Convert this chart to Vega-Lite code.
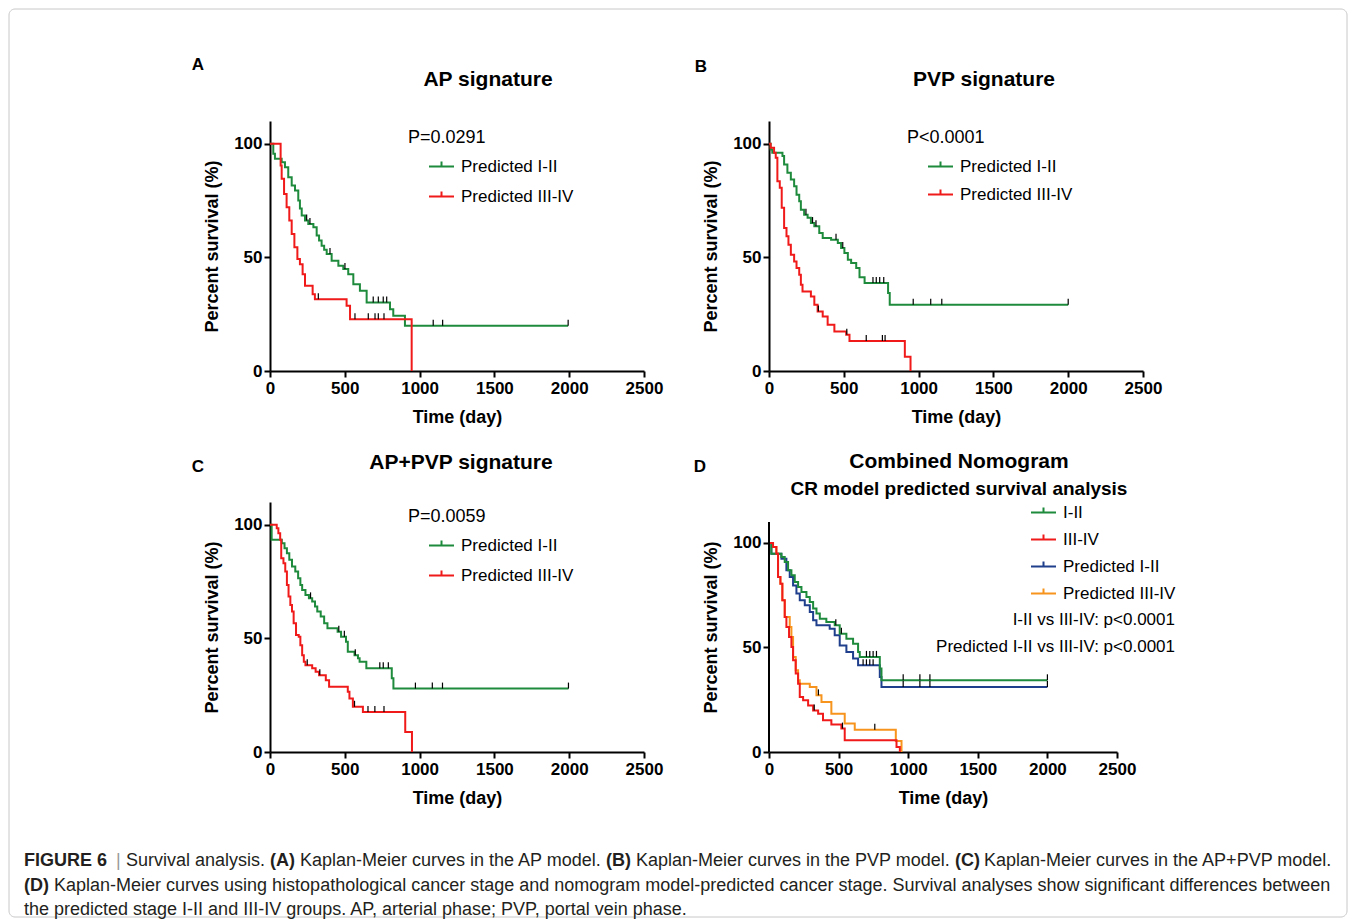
{
"$schema": "https://vega.github.io/schema/vega-lite/v6.json",
"padding": {"left": 8, "top": 8, "right": 8, "bottom": 8},
"background": "white",
"config": {
  "view": {"stroke": null},
  "font": "Liberation Sans",
  "axis": {"grid": false, "domainColor": "black", "domainWidth": 2, "tickColor": "black", "tickWidth": 2, "tickSize": 6, "labelFont": "Liberation Sans", "labelFontSize": 17, "labelFontWeight": "bold", "labelColor": "black", "titleFont": "Liberation Sans", "titleFontSize": 18, "titleFontWeight": "bold", "titleColor": "black", "labelPadding": 3, "titlePadding": 12, "labelFlush": false, "labelOverlap": false, "format": "d"},
  "axisY": {"labelPadding": 2, "titlePadding": 12},
  "title": {"font": "Liberation Sans", "fontSize": 21, "fontWeight": "bold", "color": "black", "frame": "group", "anchor": "middle"},
  "legend": {"labelFont": "Liberation Sans", "labelFontSize": 17, "labelColor": "black", "titleFont": "Liberation Sans", "titleFontSize": 18, "titleFontWeight": "normal", "titleColor": "black", "symbolType": "M-1,0L1,0M0,0L0,-0.4", "symbolSize": 625, "symbolStrokeWidth": 2, "labelOffset": 6, "padding": 0, "titleLimit": 400, "labelLimit": 300}
},
"datasets": {
  "A": [
    {"group": "Predicted I-II", "kind": "curve", "day": 0, "surv": 100},
    {"group": "Predicted I-II", "kind": "curve", "day": 22, "surv": 95.6},
    {"group": "Predicted I-II", "kind": "curve", "day": 33, "surv": 93.4},
    {"group": "Predicted I-II", "kind": "curve", "day": 78, "surv": 91.9},
    {"group": "Predicted I-II", "kind": "curve", "day": 100, "surv": 89.7},
    {"group": "Predicted I-II", "kind": "curve", "day": 122, "surv": 85.3},
    {"group": "Predicted I-II", "kind": "curve", "day": 145, "surv": 81.6},
    {"group": "Predicted I-II", "kind": "curve", "day": 167, "surv": 79.4},
    {"group": "Predicted I-II", "kind": "curve", "day": 189, "surv": 75},
    {"group": "Predicted I-II", "kind": "curve", "day": 200, "surv": 71.5},
    {"group": "Predicted I-II", "kind": "curve", "day": 212, "surv": 68.4},
    {"group": "Predicted I-II", "kind": "curve", "day": 234, "surv": 66.2},
    {"group": "Predicted I-II", "kind": "curve", "day": 256, "surv": 64.7},
    {"group": "Predicted I-II", "kind": "curve", "day": 290, "surv": 63.2},
    {"group": "Predicted I-II", "kind": "curve", "day": 312, "surv": 59.6},
    {"group": "Predicted I-II", "kind": "curve", "day": 328, "surv": 57.4},
    {"group": "Predicted I-II", "kind": "curve", "day": 345, "surv": 55.1},
    {"group": "Predicted I-II", "kind": "curve", "day": 362, "surv": 53.3},
    {"group": "Predicted I-II", "kind": "curve", "day": 379, "surv": 51.5},
    {"group": "Predicted I-II", "kind": "curve", "day": 412, "surv": 48.5},
    {"group": "Predicted I-II", "kind": "curve", "day": 457, "surv": 46.3},
    {"group": "Predicted I-II", "kind": "curve", "day": 490, "surv": 44.9},
    {"group": "Predicted I-II", "kind": "curve", "day": 523, "surv": 42.6},
    {"group": "Predicted I-II", "kind": "curve", "day": 557, "surv": 38.2},
    {"group": "Predicted I-II", "kind": "curve", "day": 601, "surv": 35.3},
    {"group": "Predicted I-II", "kind": "curve", "day": 646, "surv": 30.1},
    {"group": "Predicted I-II", "kind": "curve", "day": 802, "surv": 27.2},
    {"group": "Predicted I-II", "kind": "curve", "day": 824, "surv": 24.3},
    {"group": "Predicted I-II", "kind": "curve", "day": 902, "surv": 19.9},
    {"group": "Predicted I-II", "kind": "curve", "day": 1993, "surv": 19.9},
    {"group": "Predicted III-IV", "kind": "curve", "day": 0, "surv": 100},
    {"group": "Predicted III-IV", "kind": "curve", "day": 71, "surv": 90.4},
    {"group": "Predicted III-IV", "kind": "curve", "day": 78, "surv": 84.6},
    {"group": "Predicted III-IV", "kind": "curve", "day": 94, "surv": 77.9},
    {"group": "Predicted III-IV", "kind": "curve", "day": 111, "surv": 72},
    {"group": "Predicted III-IV", "kind": "curve", "day": 129, "surv": 66.2},
    {"group": "Predicted III-IV", "kind": "curve", "day": 145, "surv": 60.3},
    {"group": "Predicted III-IV", "kind": "curve", "day": 163, "surv": 54.4},
    {"group": "Predicted III-IV", "kind": "curve", "day": 183, "surv": 49.3},
    {"group": "Predicted III-IV", "kind": "curve", "day": 200, "surv": 47},
    {"group": "Predicted III-IV", "kind": "curve", "day": 218, "surv": 42.6},
    {"group": "Predicted III-IV", "kind": "curve", "day": 234, "surv": 37.5},
    {"group": "Predicted III-IV", "kind": "curve", "day": 285, "surv": 33.8},
    {"group": "Predicted III-IV", "kind": "curve", "day": 300, "surv": 31.6},
    {"group": "Predicted III-IV", "kind": "curve", "day": 512, "surv": 28.7},
    {"group": "Predicted III-IV", "kind": "curve", "day": 535, "surv": 22.8},
    {"group": "Predicted III-IV", "kind": "curve", "day": 947, "surv": 0},
    {"group": "Predicted I-II", "kind": "censor", "day": 245, "surv": 66.2},
    {"group": "Predicted I-II", "kind": "censor", "day": 267, "surv": 64.7},
    {"group": "Predicted I-II", "kind": "censor", "day": 401, "surv": 51.5},
    {"group": "Predicted I-II", "kind": "censor", "day": 501, "surv": 44.9},
    {"group": "Predicted I-II", "kind": "censor", "day": 690, "surv": 30.1},
    {"group": "Predicted I-II", "kind": "censor", "day": 724, "surv": 30.1},
    {"group": "Predicted I-II", "kind": "censor", "day": 757, "surv": 30.1},
    {"group": "Predicted I-II", "kind": "censor", "day": 780, "surv": 30.1},
    {"group": "Predicted I-II", "kind": "censor", "day": 1091, "surv": 19.9},
    {"group": "Predicted I-II", "kind": "censor", "day": 1154, "surv": 19.9},
    {"group": "Predicted I-II", "kind": "censor", "day": 1993, "surv": 19.9},
    {"group": "Predicted III-IV", "kind": "censor", "day": 323, "surv": 31.6},
    {"group": "Predicted III-IV", "kind": "censor", "day": 568, "surv": 22.8},
    {"group": "Predicted III-IV", "kind": "censor", "day": 657, "surv": 22.8},
    {"group": "Predicted III-IV", "kind": "censor", "day": 702, "surv": 22.8},
    {"group": "Predicted III-IV", "kind": "censor", "day": 724, "surv": 22.8},
    {"group": "Predicted III-IV", "kind": "censor", "day": 762, "surv": 22.8}
  ],
  "B": [
    {"group": "Predicted I-II", "kind": "curve", "day": 0, "surv": 100},
    {"group": "Predicted I-II", "kind": "curve", "day": 11, "surv": 97.5},
    {"group": "Predicted I-II", "kind": "curve", "day": 22, "surv": 96},
    {"group": "Predicted I-II", "kind": "curve", "day": 90, "surv": 94.6},
    {"group": "Predicted I-II", "kind": "curve", "day": 101, "surv": 90.9},
    {"group": "Predicted I-II", "kind": "curve", "day": 123, "surv": 87.2},
    {"group": "Predicted I-II", "kind": "curve", "day": 146, "surv": 84.3},
    {"group": "Predicted I-II", "kind": "curve", "day": 168, "surv": 81.3},
    {"group": "Predicted I-II", "kind": "curve", "day": 184, "surv": 77.6},
    {"group": "Predicted I-II", "kind": "curve", "day": 202, "surv": 74.7},
    {"group": "Predicted I-II", "kind": "curve", "day": 213, "surv": 71},
    {"group": "Predicted I-II", "kind": "curve", "day": 235, "surv": 68.8},
    {"group": "Predicted I-II", "kind": "curve", "day": 258, "surv": 67.4},
    {"group": "Predicted I-II", "kind": "curve", "day": 280, "surv": 65.1},
    {"group": "Predicted I-II", "kind": "curve", "day": 303, "surv": 63.7},
    {"group": "Predicted I-II", "kind": "curve", "day": 336, "surv": 60.7},
    {"group": "Predicted I-II", "kind": "curve", "day": 359, "surv": 58.5},
    {"group": "Predicted I-II", "kind": "curve", "day": 415, "surv": 57.8},
    {"group": "Predicted I-II", "kind": "curve", "day": 460, "surv": 56.3},
    {"group": "Predicted I-II", "kind": "curve", "day": 482, "surv": 54.1},
    {"group": "Predicted I-II", "kind": "curve", "day": 504, "surv": 51.9},
    {"group": "Predicted I-II", "kind": "curve", "day": 527, "surv": 49},
    {"group": "Predicted I-II", "kind": "curve", "day": 549, "surv": 47.5},
    {"group": "Predicted I-II", "kind": "curve", "day": 583, "surv": 45.3},
    {"group": "Predicted I-II", "kind": "curve", "day": 605, "surv": 41.2},
    {"group": "Predicted I-II", "kind": "curve", "day": 639, "surv": 38.7},
    {"group": "Predicted I-II", "kind": "curve", "day": 796, "surv": 34.3},
    {"group": "Predicted I-II", "kind": "curve", "day": 807, "surv": 29.1},
    {"group": "Predicted I-II", "kind": "curve", "day": 2000, "surv": 29.1},
    {"group": "Predicted III-IV", "kind": "curve", "day": 0, "surv": 100},
    {"group": "Predicted III-IV", "kind": "curve", "day": 11, "surv": 98.2},
    {"group": "Predicted III-IV", "kind": "curve", "day": 34, "surv": 96},
    {"group": "Predicted III-IV", "kind": "curve", "day": 45, "surv": 93.8},
    {"group": "Predicted III-IV", "kind": "curve", "day": 56, "surv": 83.5},
    {"group": "Predicted III-IV", "kind": "curve", "day": 72, "surv": 80.6},
    {"group": "Predicted III-IV", "kind": "curve", "day": 85, "surv": 71.8},
    {"group": "Predicted III-IV", "kind": "curve", "day": 101, "surv": 62.9},
    {"group": "Predicted III-IV", "kind": "curve", "day": 117, "surv": 59.3},
    {"group": "Predicted III-IV", "kind": "curve", "day": 130, "surv": 55.6},
    {"group": "Predicted III-IV", "kind": "curve", "day": 146, "surv": 51.2},
    {"group": "Predicted III-IV", "kind": "curve", "day": 168, "surv": 48.2},
    {"group": "Predicted III-IV", "kind": "curve", "day": 184, "surv": 45.3},
    {"group": "Predicted III-IV", "kind": "curve", "day": 202, "surv": 42.4},
    {"group": "Predicted III-IV", "kind": "curve", "day": 213, "surv": 37.9},
    {"group": "Predicted III-IV", "kind": "curve", "day": 224, "surv": 35},
    {"group": "Predicted III-IV", "kind": "curve", "day": 280, "surv": 32.8},
    {"group": "Predicted III-IV", "kind": "curve", "day": 303, "surv": 29.1},
    {"group": "Predicted III-IV", "kind": "curve", "day": 325, "surv": 26.2},
    {"group": "Predicted III-IV", "kind": "curve", "day": 359, "surv": 24},
    {"group": "Predicted III-IV", "kind": "curve", "day": 392, "surv": 20.3},
    {"group": "Predicted III-IV", "kind": "curve", "day": 437, "surv": 17.4},
    {"group": "Predicted III-IV", "kind": "curve", "day": 516, "surv": 15.9},
    {"group": "Predicted III-IV", "kind": "curve", "day": 538, "surv": 13.2},
    {"group": "Predicted III-IV", "kind": "curve", "day": 908, "surv": 6.3},
    {"group": "Predicted III-IV", "kind": "curve", "day": 946, "surv": 0},
    {"group": "Predicted I-II", "kind": "censor", "day": 247, "surv": 68.8},
    {"group": "Predicted I-II", "kind": "censor", "day": 291, "surv": 65.1},
    {"group": "Predicted I-II", "kind": "censor", "day": 314, "surv": 63.7},
    {"group": "Predicted I-II", "kind": "censor", "day": 448, "surv": 57.8},
    {"group": "Predicted I-II", "kind": "censor", "day": 493, "surv": 54.1},
    {"group": "Predicted I-II", "kind": "censor", "day": 695, "surv": 38.7},
    {"group": "Predicted I-II", "kind": "censor", "day": 717, "surv": 38.7},
    {"group": "Predicted I-II", "kind": "censor", "day": 740, "surv": 38.7},
    {"group": "Predicted I-II", "kind": "censor", "day": 767, "surv": 38.7},
    {"group": "Predicted I-II", "kind": "censor", "day": 964, "surv": 29.1},
    {"group": "Predicted I-II", "kind": "censor", "day": 1081, "surv": 29.1},
    {"group": "Predicted I-II", "kind": "censor", "day": 1155, "surv": 29.1},
    {"group": "Predicted I-II", "kind": "censor", "day": 2000, "surv": 29.1},
    {"group": "Predicted III-IV", "kind": "censor", "day": 330, "surv": 26.2},
    {"group": "Predicted III-IV", "kind": "censor", "day": 520, "surv": 15.9},
    {"group": "Predicted III-IV", "kind": "censor", "day": 650, "surv": 13.2},
    {"group": "Predicted III-IV", "kind": "censor", "day": 758, "surv": 13.2},
    {"group": "Predicted III-IV", "kind": "censor", "day": 776, "surv": 13.2}
  ],
  "C": [
    {"group": "Predicted I-II", "kind": "curve", "day": 0, "surv": 100},
    {"group": "Predicted I-II", "kind": "curve", "day": 11, "surv": 93.4},
    {"group": "Predicted I-II", "kind": "curve", "day": 79, "surv": 91.9},
    {"group": "Predicted I-II", "kind": "curve", "day": 97, "surv": 89.7},
    {"group": "Predicted I-II", "kind": "curve", "day": 113, "surv": 87.5},
    {"group": "Predicted I-II", "kind": "curve", "day": 129, "surv": 84.6},
    {"group": "Predicted I-II", "kind": "curve", "day": 147, "surv": 81.6},
    {"group": "Predicted I-II", "kind": "curve", "day": 169, "surv": 79.4},
    {"group": "Predicted I-II", "kind": "curve", "day": 188, "surv": 76.5},
    {"group": "Predicted I-II", "kind": "curve", "day": 203, "surv": 73.5},
    {"group": "Predicted I-II", "kind": "curve", "day": 215, "surv": 71.3},
    {"group": "Predicted I-II", "kind": "curve", "day": 237, "surv": 69.1},
    {"group": "Predicted I-II", "kind": "curve", "day": 260, "surv": 67.6},
    {"group": "Predicted I-II", "kind": "curve", "day": 282, "surv": 66.2},
    {"group": "Predicted I-II", "kind": "curve", "day": 301, "surv": 64},
    {"group": "Predicted I-II", "kind": "curve", "day": 316, "surv": 61.8},
    {"group": "Predicted I-II", "kind": "curve", "day": 339, "surv": 59.6},
    {"group": "Predicted I-II", "kind": "curve", "day": 362, "surv": 56.6},
    {"group": "Predicted I-II", "kind": "curve", "day": 384, "surv": 54.4},
    {"group": "Predicted I-II", "kind": "curve", "day": 452, "surv": 52.9},
    {"group": "Predicted I-II", "kind": "curve", "day": 475, "surv": 50.7},
    {"group": "Predicted I-II", "kind": "curve", "day": 508, "surv": 48.5},
    {"group": "Predicted I-II", "kind": "curve", "day": 520, "surv": 44.1},
    {"group": "Predicted I-II", "kind": "curve", "day": 565, "surv": 42.6},
    {"group": "Predicted I-II", "kind": "curve", "day": 588, "surv": 41.2},
    {"group": "Predicted I-II", "kind": "curve", "day": 599, "surv": 39.7},
    {"group": "Predicted I-II", "kind": "curve", "day": 644, "surv": 36.8},
    {"group": "Predicted I-II", "kind": "curve", "day": 814, "surv": 32.4},
    {"group": "Predicted I-II", "kind": "curve", "day": 825, "surv": 27.9},
    {"group": "Predicted I-II", "kind": "curve", "day": 1995, "surv": 27.9},
    {"group": "Predicted III-IV", "kind": "curve", "day": 0, "surv": 100},
    {"group": "Predicted III-IV", "kind": "curve", "day": 45, "surv": 98.5},
    {"group": "Predicted III-IV", "kind": "curve", "day": 56, "surv": 96.3},
    {"group": "Predicted III-IV", "kind": "curve", "day": 68, "surv": 93.4},
    {"group": "Predicted III-IV", "kind": "curve", "day": 75, "surv": 85.3},
    {"group": "Predicted III-IV", "kind": "curve", "day": 90, "surv": 83.1},
    {"group": "Predicted III-IV", "kind": "curve", "day": 102, "surv": 79.4},
    {"group": "Predicted III-IV", "kind": "curve", "day": 113, "surv": 73.5},
    {"group": "Predicted III-IV", "kind": "curve", "day": 124, "surv": 68.4},
    {"group": "Predicted III-IV", "kind": "curve", "day": 136, "surv": 64.7},
    {"group": "Predicted III-IV", "kind": "curve", "day": 147, "surv": 61.8},
    {"group": "Predicted III-IV", "kind": "curve", "day": 158, "surv": 56.6},
    {"group": "Predicted III-IV", "kind": "curve", "day": 174, "surv": 51.5},
    {"group": "Predicted III-IV", "kind": "curve", "day": 192, "surv": 50.7},
    {"group": "Predicted III-IV", "kind": "curve", "day": 203, "surv": 47},
    {"group": "Predicted III-IV", "kind": "curve", "day": 215, "surv": 42.6},
    {"group": "Predicted III-IV", "kind": "curve", "day": 226, "surv": 39.7},
    {"group": "Predicted III-IV", "kind": "curve", "day": 237, "surv": 38.2},
    {"group": "Predicted III-IV", "kind": "curve", "day": 282, "surv": 36.8},
    {"group": "Predicted III-IV", "kind": "curve", "day": 305, "surv": 35.3},
    {"group": "Predicted III-IV", "kind": "curve", "day": 328, "surv": 33.8},
    {"group": "Predicted III-IV", "kind": "curve", "day": 373, "surv": 31.6},
    {"group": "Predicted III-IV", "kind": "curve", "day": 395, "surv": 28.7},
    {"group": "Predicted III-IV", "kind": "curve", "day": 520, "surv": 26.5},
    {"group": "Predicted III-IV", "kind": "curve", "day": 531, "surv": 23.5},
    {"group": "Predicted III-IV", "kind": "curve", "day": 554, "surv": 19.9},
    {"group": "Predicted III-IV", "kind": "curve", "day": 621, "surv": 17.6},
    {"group": "Predicted III-IV", "kind": "curve", "day": 904, "surv": 8.8},
    {"group": "Predicted III-IV", "kind": "curve", "day": 949, "surv": 0},
    {"group": "Predicted I-II", "kind": "censor", "day": 271, "surv": 67.6},
    {"group": "Predicted I-II", "kind": "censor", "day": 460, "surv": 52.9},
    {"group": "Predicted I-II", "kind": "censor", "day": 497, "surv": 50.7},
    {"group": "Predicted I-II", "kind": "censor", "day": 570, "surv": 42.6},
    {"group": "Predicted I-II", "kind": "censor", "day": 734, "surv": 36.8},
    {"group": "Predicted I-II", "kind": "censor", "day": 757, "surv": 36.8},
    {"group": "Predicted I-II", "kind": "censor", "day": 791, "surv": 36.8},
    {"group": "Predicted I-II", "kind": "censor", "day": 972, "surv": 27.9},
    {"group": "Predicted I-II", "kind": "censor", "day": 1085, "surv": 27.9},
    {"group": "Predicted I-II", "kind": "censor", "day": 1153, "surv": 27.9},
    {"group": "Predicted I-II", "kind": "censor", "day": 1995, "surv": 27.9},
    {"group": "Predicted III-IV", "kind": "censor", "day": 249, "surv": 38.2},
    {"group": "Predicted III-IV", "kind": "censor", "day": 333, "surv": 33.8},
    {"group": "Predicted III-IV", "kind": "censor", "day": 565, "surv": 19.9},
    {"group": "Predicted III-IV", "kind": "censor", "day": 655, "surv": 17.6},
    {"group": "Predicted III-IV", "kind": "censor", "day": 701, "surv": 17.6},
    {"group": "Predicted III-IV", "kind": "censor", "day": 762, "surv": 17.6}
  ],
  "D": [
    {"group": "Predicted I-II", "kind": "curve", "day": 0, "surv": 100},
    {"group": "Predicted I-II", "kind": "curve", "day": 17, "surv": 94.9},
    {"group": "Predicted I-II", "kind": "curve", "day": 89, "surv": 92.5},
    {"group": "Predicted I-II", "kind": "curve", "day": 125, "surv": 86.9},
    {"group": "Predicted I-II", "kind": "curve", "day": 149, "surv": 83.7},
    {"group": "Predicted I-II", "kind": "curve", "day": 173, "surv": 79.7},
    {"group": "Predicted I-II", "kind": "curve", "day": 197, "surv": 75.8},
    {"group": "Predicted I-II", "kind": "curve", "day": 221, "surv": 72.6},
    {"group": "Predicted I-II", "kind": "curve", "day": 257, "surv": 70.2},
    {"group": "Predicted I-II", "kind": "curve", "day": 293, "surv": 67},
    {"group": "Predicted I-II", "kind": "curve", "day": 317, "surv": 63},
    {"group": "Predicted I-II", "kind": "curve", "day": 341, "surv": 60.6},
    {"group": "Predicted I-II", "kind": "curve", "day": 436, "surv": 59},
    {"group": "Predicted I-II", "kind": "curve", "day": 472, "surv": 55.8},
    {"group": "Predicted I-II", "kind": "curve", "day": 508, "surv": 51},
    {"group": "Predicted I-II", "kind": "curve", "day": 556, "surv": 47.8},
    {"group": "Predicted I-II", "kind": "curve", "day": 604, "surv": 44.7},
    {"group": "Predicted I-II", "kind": "curve", "day": 640, "surv": 41.5},
    {"group": "Predicted I-II", "kind": "curve", "day": 796, "surv": 35.9},
    {"group": "Predicted I-II", "kind": "curve", "day": 808, "surv": 31.1},
    {"group": "Predicted I-II", "kind": "curve", "day": 2000, "surv": 31.1},
    {"group": "Predicted III-IV", "kind": "curve", "day": 0, "surv": 100},
    {"group": "Predicted III-IV", "kind": "curve", "day": 29, "surv": 98.1},
    {"group": "Predicted III-IV", "kind": "curve", "day": 53, "surv": 94.9},
    {"group": "Predicted III-IV", "kind": "curve", "day": 65, "surv": 83.7},
    {"group": "Predicted III-IV", "kind": "curve", "day": 82, "surv": 80.5},
    {"group": "Predicted III-IV", "kind": "curve", "day": 96, "surv": 72.6},
    {"group": "Predicted III-IV", "kind": "curve", "day": 113, "surv": 64.6},
    {"group": "Predicted III-IV", "kind": "curve", "day": 149, "surv": 59.8},
    {"group": "Predicted III-IV", "kind": "curve", "day": 161, "surv": 55},
    {"group": "Predicted III-IV", "kind": "curve", "day": 173, "surv": 45.5},
    {"group": "Predicted III-IV", "kind": "curve", "day": 192, "surv": 39.1},
    {"group": "Predicted III-IV", "kind": "curve", "day": 209, "surv": 34.3},
    {"group": "Predicted III-IV", "kind": "curve", "day": 221, "surv": 32.7},
    {"group": "Predicted III-IV", "kind": "curve", "day": 293, "surv": 31.1},
    {"group": "Predicted III-IV", "kind": "curve", "day": 341, "surv": 27.1},
    {"group": "Predicted III-IV", "kind": "curve", "day": 377, "surv": 23.9},
    {"group": "Predicted III-IV", "kind": "curve", "day": 448, "surv": 18.3},
    {"group": "Predicted III-IV", "kind": "curve", "day": 544, "surv": 13.6},
    {"group": "Predicted III-IV", "kind": "curve", "day": 616, "surv": 10.7},
    {"group": "Predicted III-IV", "kind": "curve", "day": 911, "surv": 5.3},
    {"group": "Predicted III-IV", "kind": "curve", "day": 952, "surv": 0},
    {"group": "I-II", "kind": "curve", "day": 0, "surv": 100},
    {"group": "I-II", "kind": "curve", "day": 17, "surv": 94.9},
    {"group": "I-II", "kind": "curve", "day": 89, "surv": 93.3},
    {"group": "I-II", "kind": "curve", "day": 113, "surv": 90.9},
    {"group": "I-II", "kind": "curve", "day": 137, "surv": 86.9},
    {"group": "I-II", "kind": "curve", "day": 161, "surv": 84.5},
    {"group": "I-II", "kind": "curve", "day": 185, "surv": 81.3},
    {"group": "I-II", "kind": "curve", "day": 209, "surv": 78.9},
    {"group": "I-II", "kind": "curve", "day": 233, "surv": 76.6},
    {"group": "I-II", "kind": "curve", "day": 269, "surv": 74.2},
    {"group": "I-II", "kind": "curve", "day": 293, "surv": 71.8},
    {"group": "I-II", "kind": "curve", "day": 317, "surv": 68.6},
    {"group": "I-II", "kind": "curve", "day": 341, "surv": 66.2},
    {"group": "I-II", "kind": "curve", "day": 365, "surv": 63.8},
    {"group": "I-II", "kind": "curve", "day": 412, "surv": 62.2},
    {"group": "I-II", "kind": "curve", "day": 472, "surv": 60.6},
    {"group": "I-II", "kind": "curve", "day": 508, "surv": 56.6},
    {"group": "I-II", "kind": "curve", "day": 556, "surv": 54.2},
    {"group": "I-II", "kind": "curve", "day": 604, "surv": 51.8},
    {"group": "I-II", "kind": "curve", "day": 640, "surv": 47.8},
    {"group": "I-II", "kind": "curve", "day": 652, "surv": 45.5},
    {"group": "I-II", "kind": "curve", "day": 796, "surv": 39.9},
    {"group": "I-II", "kind": "curve", "day": 808, "surv": 34.3},
    {"group": "I-II", "kind": "curve", "day": 2000, "surv": 34.3},
    {"group": "III-IV", "kind": "curve", "day": 0, "surv": 100},
    {"group": "III-IV", "kind": "curve", "day": 29, "surv": 98.1},
    {"group": "III-IV", "kind": "curve", "day": 53, "surv": 94.9},
    {"group": "III-IV", "kind": "curve", "day": 65, "surv": 83.7},
    {"group": "III-IV", "kind": "curve", "day": 82, "surv": 80.5},
    {"group": "III-IV", "kind": "curve", "day": 96, "surv": 72.6},
    {"group": "III-IV", "kind": "curve", "day": 113, "surv": 64.6},
    {"group": "III-IV", "kind": "curve", "day": 125, "surv": 59.8},
    {"group": "III-IV", "kind": "curve", "day": 144, "surv": 55},
    {"group": "III-IV", "kind": "curve", "day": 161, "surv": 50.2},
    {"group": "III-IV", "kind": "curve", "day": 173, "surv": 43.9},
    {"group": "III-IV", "kind": "curve", "day": 192, "surv": 37.5},
    {"group": "III-IV", "kind": "curve", "day": 209, "surv": 32.7},
    {"group": "III-IV", "kind": "curve", "day": 221, "surv": 26.3},
    {"group": "III-IV", "kind": "curve", "day": 245, "surv": 24.7},
    {"group": "III-IV", "kind": "curve", "day": 281, "surv": 22.3},
    {"group": "III-IV", "kind": "curve", "day": 317, "surv": 19.9},
    {"group": "III-IV", "kind": "curve", "day": 353, "surv": 18.3},
    {"group": "III-IV", "kind": "curve", "day": 388, "surv": 15.2},
    {"group": "III-IV", "kind": "curve", "day": 448, "surv": 13.2},
    {"group": "III-IV", "kind": "curve", "day": 520, "surv": 11.2},
    {"group": "III-IV", "kind": "curve", "day": 544, "surv": 5.6},
    {"group": "III-IV", "kind": "curve", "day": 916, "surv": 2.4},
    {"group": "III-IV", "kind": "curve", "day": 940, "surv": 0},
    {"group": "I-II", "kind": "censor", "day": 480, "surv": 60.6},
    {"group": "I-II", "kind": "censor", "day": 520, "surv": 56.6},
    {"group": "I-II", "kind": "censor", "day": 700, "surv": 45.5},
    {"group": "I-II", "kind": "censor", "day": 724, "surv": 45.5},
    {"group": "I-II", "kind": "censor", "day": 748, "surv": 45.5},
    {"group": "I-II", "kind": "censor", "day": 772, "surv": 45.5},
    {"group": "I-II", "kind": "censor", "day": 964, "surv": 34.3},
    {"group": "I-II", "kind": "censor", "day": 1084, "surv": 34.3},
    {"group": "I-II", "kind": "censor", "day": 1156, "surv": 34.3},
    {"group": "I-II", "kind": "censor", "day": 2000, "surv": 34.3},
    {"group": "Predicted I-II", "kind": "censor", "day": 676, "surv": 41.5},
    {"group": "Predicted I-II", "kind": "censor", "day": 700, "surv": 41.5},
    {"group": "Predicted I-II", "kind": "censor", "day": 724, "surv": 41.5},
    {"group": "Predicted I-II", "kind": "censor", "day": 748, "surv": 41.5},
    {"group": "Predicted I-II", "kind": "censor", "day": 964, "surv": 31.1},
    {"group": "Predicted I-II", "kind": "censor", "day": 1084, "surv": 31.1},
    {"group": "Predicted I-II", "kind": "censor", "day": 1156, "surv": 31.1},
    {"group": "Predicted I-II", "kind": "censor", "day": 2000, "surv": 31.1},
    {"group": "III-IV", "kind": "censor", "day": 325, "surv": 19.9},
    {"group": "III-IV", "kind": "censor", "day": 528, "surv": 11.2},
    {"group": "Predicted III-IV", "kind": "censor", "day": 355, "surv": 27.1},
    {"group": "Predicted III-IV", "kind": "censor", "day": 760, "surv": 10.7}
  ]
},
"columns": 2,
"spacing": {"row": 131, "column": 125},
"bounds": "flush",
"resolve": {"scale": {"x": "independent", "y": "independent", "color": "independent"}, "legend": {"color": "independent"}, "axis": {"x": "independent", "y": "independent"}},
"concat": [
  {
    "width": 374, "height": 250,
    "title": {"text": "AP signature", "dx": 31, "offset": 31},
    "data": {"name": "A"},
    "layer": [
      {"transform": [{"filter": "datum.kind === 'curve'"}],
       "mark": {"type": "line", "interpolate": "step-after", "strokeWidth": 2},
       "encoding": {
         "x": {"field": "day", "type": "quantitative", "scale": {"domain": [0, 2500], "nice": false}, "axis": {"values": [0, 500, 1000, 1500, 2000, 2500], "title": "Time (day)"}},
         "y": {"field": "surv", "type": "quantitative", "scale": {"domain": [0, 110], "nice": false}, "axis": {"values": [0, 50, 100], "title": "Percent survival (%)"}},
         "color": {"field": "group", "type": "nominal", "scale": {"domain": ["Predicted I-II", "Predicted III-IV"], "range": ["#1e8a3c", "#f01a1a"]},
           "legend": {"title": "P=0.0291", "orient": "none", "legendX": 138, "legendY": 8, "symbolOffset": 20, "rowPadding": 8, "titlePadding": 6}}
       }},
      {"transform": [{"filter": "datum.kind === 'censor'"}],
       "mark": {"type": "point", "shape": "M0,0L0,-1", "size": 144, "filled": false, "stroke": "black", "strokeWidth": 1.2, "opacity": 1},
       "encoding": {"x": {"field": "day", "type": "quantitative"}, "y": {"field": "surv", "type": "quantitative"}}}
    ]
  },
  {
    "width": 374, "height": 250,
    "title": {"text": "PVP signature", "dx": 28, "offset": 31},
    "data": {"name": "B"},
    "layer": [
      {"transform": [{"filter": "datum.kind === 'curve'"}],
       "mark": {"type": "line", "interpolate": "step-after", "strokeWidth": 2},
       "encoding": {
         "x": {"field": "day", "type": "quantitative", "scale": {"domain": [0, 2500], "nice": false}, "axis": {"values": [0, 500, 1000, 1500, 2000, 2500], "title": "Time (day)"}},
         "y": {"field": "surv", "type": "quantitative", "scale": {"domain": [0, 110], "nice": false}, "axis": {"values": [0, 50, 100], "title": "Percent survival (%)"}},
         "color": {"field": "group", "type": "nominal", "scale": {"domain": ["Predicted I-II", "Predicted III-IV"], "range": ["#1e8a3c", "#f01a1a"]},
           "legend": {"title": "P<0.0001", "orient": "none", "legendX": 138, "legendY": 8, "symbolOffset": 20, "rowPadding": 6, "titlePadding": 6}}
       }},
      {"transform": [{"filter": "datum.kind === 'censor'"}],
       "mark": {"type": "point", "shape": "M0,0L0,-1", "size": 144, "filled": false, "stroke": "black", "strokeWidth": 1.2, "opacity": 1},
       "encoding": {"x": {"field": "day", "type": "quantitative"}, "y": {"field": "surv", "type": "quantitative"}}}
    ]
  },
  {
    "width": 374, "height": 250,
    "title": {"text": "AP+PVP signature", "dx": 4, "offset": 29},
    "data": {"name": "C"},
    "layer": [
      {"transform": [{"filter": "datum.kind === 'curve'"}],
       "mark": {"type": "line", "interpolate": "step-after", "strokeWidth": 2},
       "encoding": {
         "x": {"field": "day", "type": "quantitative", "scale": {"domain": [0, 2500], "nice": false}, "axis": {"values": [0, 500, 1000, 1500, 2000, 2500], "title": "Time (day)"}},
         "y": {"field": "surv", "type": "quantitative", "scale": {"domain": [0, 110], "nice": false}, "axis": {"values": [0, 50, 100], "title": "Percent survival (%)"}},
         "color": {"field": "group", "type": "nominal", "scale": {"domain": ["Predicted I-II", "Predicted III-IV"], "range": ["#1e8a3c", "#f01a1a"]},
           "legend": {"title": "P=0.0059", "orient": "none", "legendX": 138, "legendY": 6, "symbolOffset": 20, "rowPadding": 8, "titlePadding": 6}}
       }},
      {"transform": [{"filter": "datum.kind === 'censor'"}],
       "mark": {"type": "point", "shape": "M0,0L0,-1", "size": 144, "filled": false, "stroke": "black", "strokeWidth": 1.2, "opacity": 1},
       "encoding": {"x": {"field": "day", "type": "quantitative"}, "y": {"field": "surv", "type": "quantitative"}}}
    ]
  },
  {
    "width": 348, "height": 250,
    "title": {"text": "Combined Nomogram", "subtitle": "CR model predicted survival analysis", "subtitleFont": "Liberation Sans", "subtitleFontSize": 19, "subtitleFontWeight": "bold", "subtitleColor": "black", "subtitlePadding": 8, "dx": 16, "offset": 0},
    "data": {"name": "D"},
    "layer": [
      {"transform": [{"filter": "datum.kind === 'curve'"}],
       "mark": {"type": "line", "interpolate": "step-after", "strokeWidth": 2},
       "encoding": {
         "x": {"field": "day", "type": "quantitative", "scale": {"domain": [0, 2500], "nice": false}, "axis": {"values": [0, 500, 1000, 1500, 2000, 2500], "title": "Time (day)"}},
         "y": {"field": "surv", "type": "quantitative", "scale": {"domain": [0, 119.6], "nice": false}, "axis": {"values": [0, 50, 100], "title": "Percent survival (%)", "domain": false}},
         "color": {"field": "group", "type": "nominal", "scale": {"domain": ["I-II", "III-IV", "Predicted I-II", "Predicted III-IV"], "range": ["#1e8a3c", "#f01a1a", "#1f3f8c", "#f7941d"]},
           "legend": {"title": ["I-II vs III-IV: p<0.0001", "Predicted I-II vs III-IV: p<0.0001"], "titleOrient": "bottom", "titleAnchor": "end", "titleAlign": "right", "titleFontSize": 17, "titleLineHeight": 27, "orient": "none", "legendX": 167, "legendY": -3, "symbolOffset": 42, "rowPadding": 5, "titlePadding": 10}}
       }},
      {"transform": [{"filter": "datum.kind === 'censor'"}],
       "mark": {"type": "point", "shape": "M0,0L0,-1", "size": 144, "filled": false, "stroke": "black", "strokeWidth": 1.2, "opacity": 1},
       "encoding": {"x": {"field": "day", "type": "quantitative"}, "y": {"field": "surv", "type": "quantitative"}}},
      {"mark": {"type": "rule", "color": "black", "strokeWidth": 2},
       "encoding": {"x": {"datum": 0}, "y": {"datum": 0}, "y2": {"datum": 110}}}
    ]
  },
  {
    "width": 10, "height": 10,
    "data": {"values": [{}]},
    "layer": [
      {"mark": {"type": "rect", "fill": null, "fillOpacity": 0, "stroke": "#c8c8c8", "strokeWidth": 1, "cornerRadius": 6},
       "encoding": {"x": {"value": -261}, "x2": {"value": 1077}, "y": {"value": -874}, "y2": {"value": 34}}},
      {"mark": {"type": "text", "fontSize": 17, "fontWeight": "bold", "align": "center", "baseline": "middle", "color": "black"}, "encoding": {"text": {"value": "A"}, "x": {"value": -72}, "y": {"value": -818}}},
      {"mark": {"type": "text", "fontSize": 17, "fontWeight": "bold", "align": "center", "baseline": "middle", "color": "black"}, "encoding": {"text": {"value": "B"}, "x": {"value": 431}, "y": {"value": -816}}},
      {"mark": {"type": "text", "fontSize": 17, "fontWeight": "bold", "align": "center", "baseline": "middle", "color": "black"}, "encoding": {"text": {"value": "C"}, "x": {"value": -72}, "y": {"value": -416}}},
      {"mark": {"type": "text", "fontSize": 17, "fontWeight": "bold", "align": "center", "baseline": "middle", "color": "black"}, "encoding": {"text": {"value": "D"}, "x": {"value": 430}, "y": {"value": -416}}},
      {"mark": {"type": "text", "fontSize": 18, "fontWeight": "bold", "align": "left", "baseline": "middle", "color": "#231f20"}, "encoding": {"text": {"value": "FIGURE 6"}, "x": {"value": -246}, "y": {"value": -22}}},
      {"mark": {"type": "text", "fontSize": 18, "align": "left", "baseline": "middle", "color": "#9a9a9a"}, "encoding": {"text": {"value": "|"}, "x": {"value": -154}, "y": {"value": -22}}},
      {"mark": {"type": "text", "fontSize": 18, "align": "left", "baseline": "middle", "color": "#231f20"}, "encoding": {"text": {"value": "Survival analysis."}, "x": {"value": -144}, "y": {"value": -22}}},
      {"mark": {"type": "text", "fontSize": 18, "fontWeight": "bold", "align": "left", "baseline": "middle", "color": "#231f20"}, "encoding": {"text": {"value": "(A)"}, "x": {"value": 0}, "y": {"value": -22}}},
      {"mark": {"type": "text", "fontSize": 18, "align": "left", "baseline": "middle", "color": "#231f20"}, "encoding": {"text": {"value": "Kaplan-Meier curves in the AP model."}, "x": {"value": 30}, "y": {"value": -22}}},
      {"mark": {"type": "text", "fontSize": 18, "fontWeight": "bold", "align": "left", "baseline": "middle", "color": "#231f20"}, "encoding": {"text": {"value": "(B)"}, "x": {"value": 336}, "y": {"value": -22}}},
      {"mark": {"type": "text", "fontSize": 18, "align": "left", "baseline": "middle", "color": "#231f20"}, "encoding": {"text": {"value": "Kaplan-Meier curves in the PVP model."}, "x": {"value": 366}, "y": {"value": -22}}},
      {"mark": {"type": "text", "fontSize": 18, "fontWeight": "bold", "align": "left", "baseline": "middle", "color": "#231f20"}, "encoding": {"text": {"value": "(C)"}, "x": {"value": 685}, "y": {"value": -22}}},
      {"mark": {"type": "text", "fontSize": 18, "align": "left", "baseline": "middle", "color": "#231f20"}, "encoding": {"text": {"value": "Kaplan-Meier curves in the AP+PVP model."}, "x": {"value": 714}, "y": {"value": -22}}},
      {"mark": {"type": "text", "fontSize": 18, "fontWeight": "bold", "align": "left", "baseline": "middle", "color": "#231f20"}, "encoding": {"text": {"value": "(D)"}, "x": {"value": -246}, "y": {"value": 3}}},
      {"mark": {"type": "text", "fontSize": 18, "align": "left", "baseline": "middle", "color": "#231f20"}, "encoding": {"text": {"value": "Kaplan-Meier curves using histopathological cancer stage and nomogram model-predicted cancer stage. Survival analyses show significant differences between"}, "x": {"value": -216}, "y": {"value": 3}}},
      {"mark": {"type": "text", "fontSize": 18, "align": "left", "baseline": "middle", "color": "#231f20"}, "encoding": {"text": {"value": "the predicted stage I-II and III-IV groups. AP, arterial phase; PVP, portal vein phase."}, "x": {"value": -246}, "y": {"value": 27}}}
    ]
  }
]
}
